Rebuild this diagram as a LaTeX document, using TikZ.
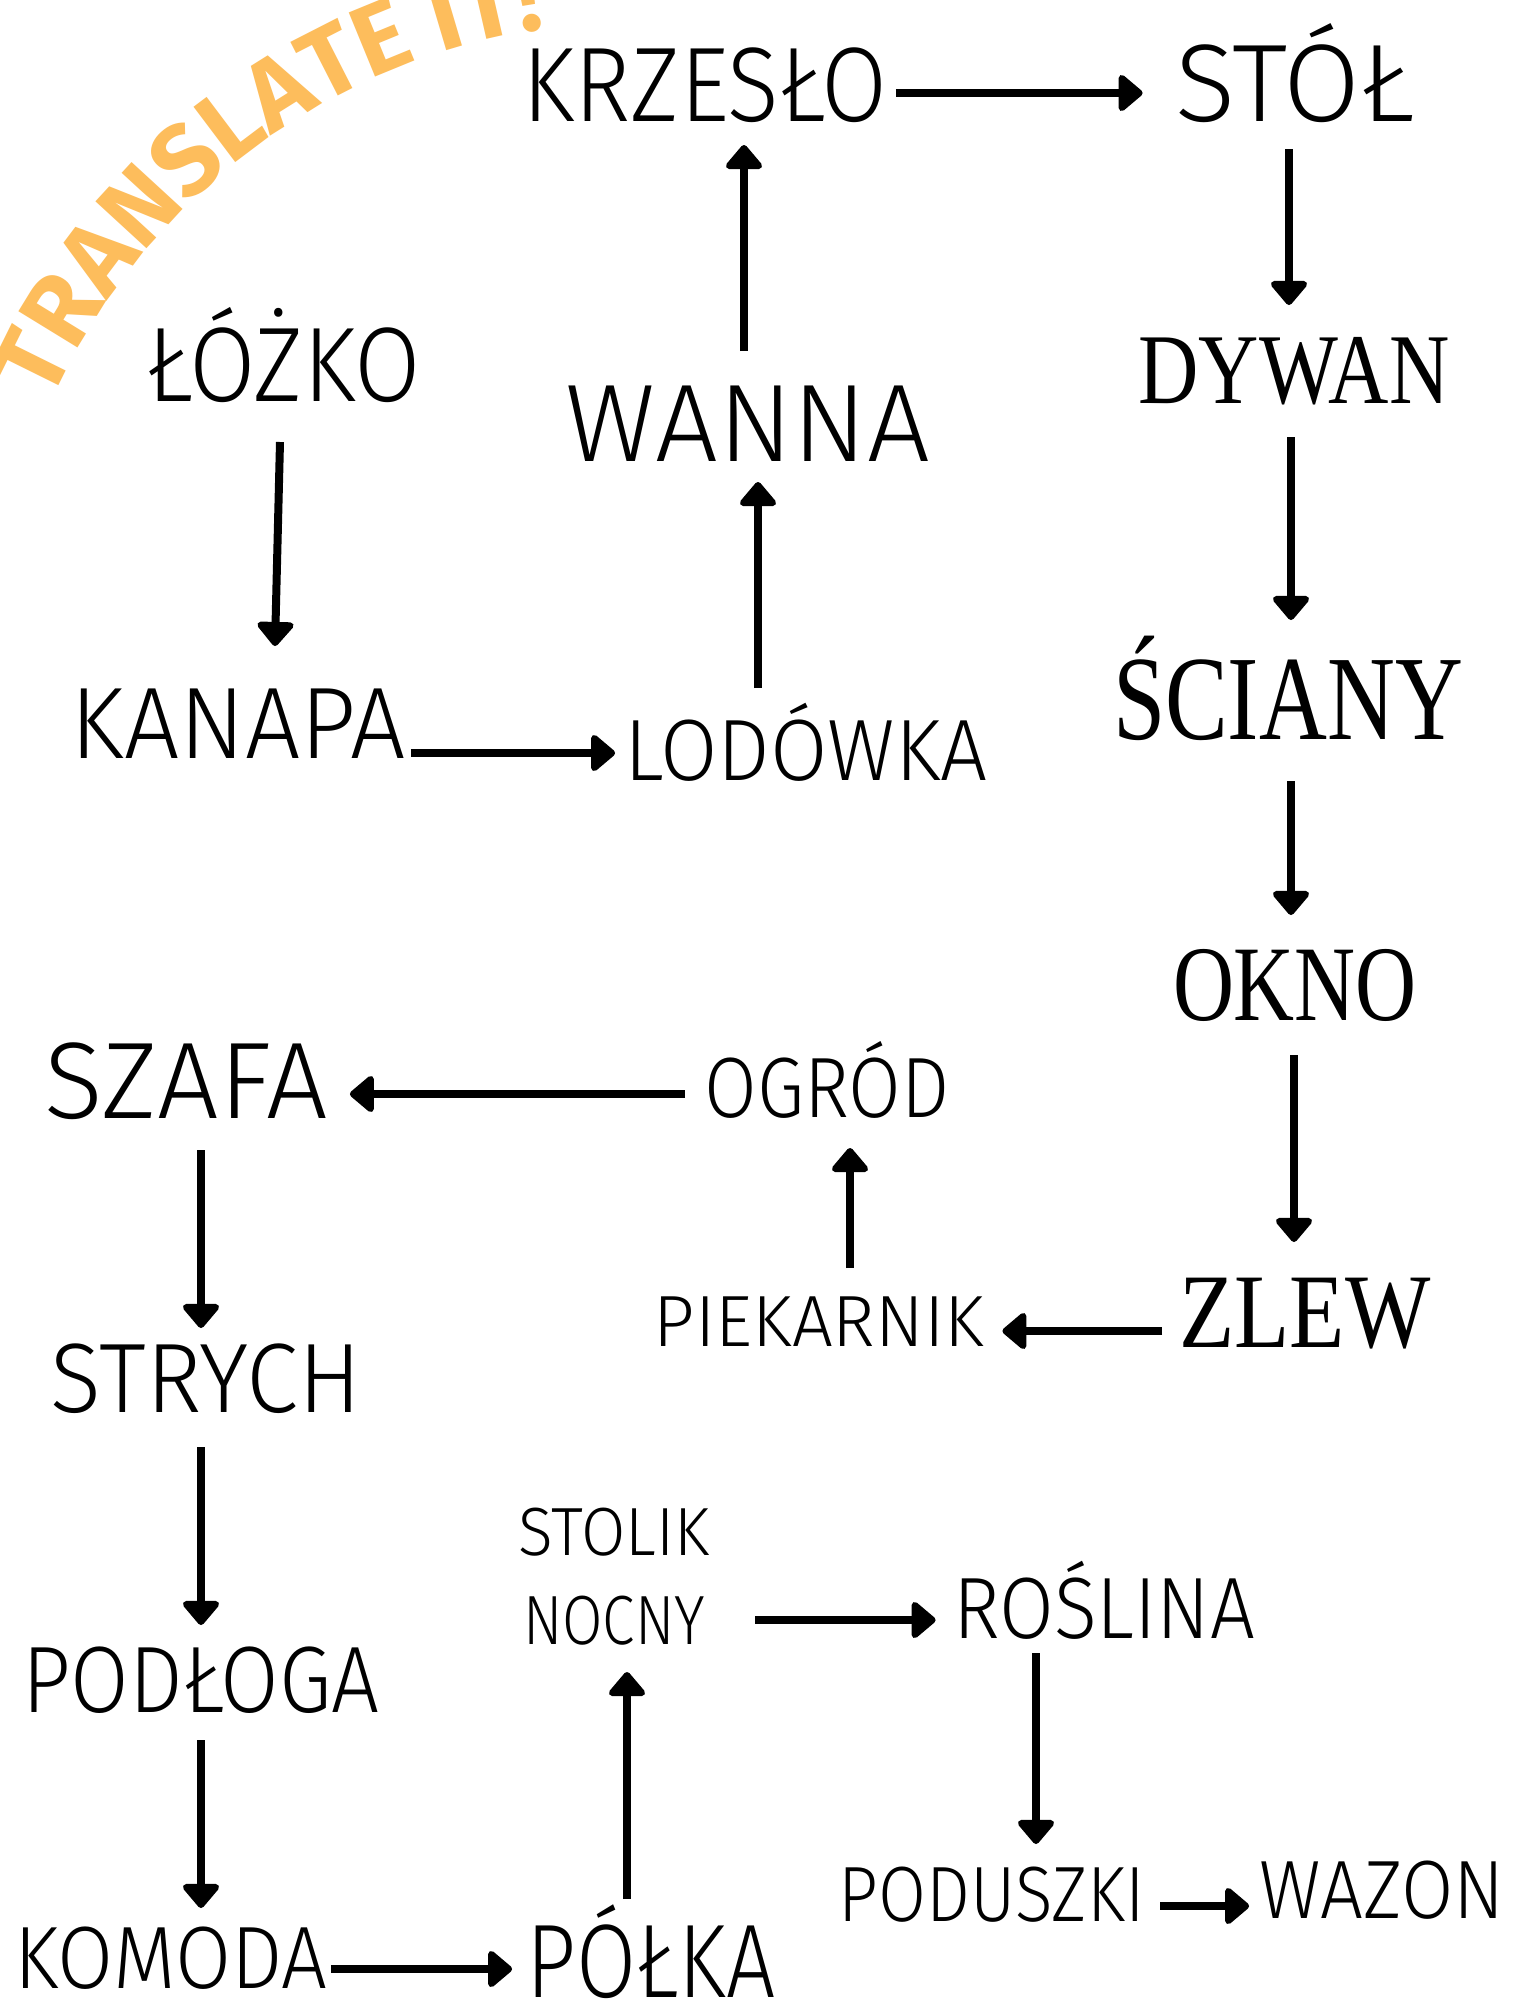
\documentclass[tikz,border=0pt]{standalone}
\usepackage{fontspec}
\setmainfont{Fira Sans}
\newfontfamily\handfont{Fira Sans Light}
\newfontfamily\widefont{Liberation Serif}
\usetikzlibrary{arrows.meta,calc,decorations.text}
\definecolor{titleorange}{HTML}{FDBD5C}
\newcommand\lab[4][\handfont]{\pgfmathsetmacro\fs{#3*0.7257}%
  \resizebox{\dimexpr #2pt/2\relax}{\height}{#1\fontsize{\fs}{\fs}\selectfont #4}}
\tikzset{
  lbl/.style={inner sep=0pt, anchor=base},
  arr/.style={line width=4pt, -{Triangle[round,length=13pt,width=21pt]}}
}
\begin{document}
\begin{tikzpicture}[x=0.5pt,y=-0.5pt]
\fill[white] (0,0) rectangle (1513,1999);
\useasboundingbox (0,0) rectangle (1513,1999);
% title
\begin{scope}[x=1pt,y=1pt]
\path[decorate, decoration={text along path, text align=left,
  text={|\fontsize{50}{50}\selectfont\bfseries\color{titleorange}|TRANSLATE IT!}}]
  (318.5,-331.5) ++(156:320.5) arc[start angle=156, end angle=70, radius=320.5];
\end{scope}
% labels
\node[lbl] (krz) at (705,121) {\lab{365}{73}{KRZESŁO}};
\node[lbl] (stol) at (1295,121) {\lab{240}{76}{STÓŁ}};
\node[lbl] (dywan) at (1294,403) {\lab[\widefont]{311}{69}{DYWAN}};
\node[lbl] (sciany) at (1288,739) {\lab[\widefont]{350}{83}{ŚCIANY}};
\node[lbl] (okno) at (1295,1020) {\lab[\widefont]{244}{74}{OKNO}};
\node[lbl] (zlew) at (1305,1347) {\lab[\widefont]{251}{73}{ZLEW}};
\node[lbl] (piek) at (819,1346) {\lab{330}{50}{PIEKARNIK}};
\node[lbl] (ogrod) at (827,1117) {\lab{245}{59}{OGRÓD}};
\node[lbl] (szafa) at (186,1118) {\lab{283}{75}{SZAFA}};
\node[lbl] (strych) at (206,1412) {\lab{310}{68}{STRYCH}};
\node[lbl] (podloga) at (201,1712) {\lab{357}{65}{PODŁOGA}};
\node[lbl] (komoda) at (171,1988) {\lab{313}{61}{KOMODA}};
\node[lbl] (polka) at (651,1997) {\lab{249}{72}{PÓŁKA}};
\node[lbl] (stolik) at (614,1555) {\lab{191}{47}{STOLIK}};
\node[lbl] (nocny) at (614,1644) {\lab{182}{48}{NOCNY}};
\node[lbl] (roslina) at (1104,1638) {\lab{302}{60}{ROŚLINA}};
\node[lbl] (poduszki) at (992,1921) {\lab{306}{54}{PODUSZKI}};
\node[lbl] (wazon) at (1382,1918) {\lab{245}{57}{WAZON}};
\node[lbl] (lozko) at (284,401) {\lab{274}{73}{ŁÓŻKO}};
\node[lbl] (kanapa) at (238,758) {\lab{335}{70}{KANAPA}};
\node[lbl] (lodowka) at (806,780) {\lab{363}{60}{LODÓWKA}};
\node[lbl] (wanna) at (748,461) {\lab{365}{76}{WANNA}};
% connectors
\draw[arr] ($(krz.base east)+(8,-28)$) -- ($(stol.base west)+(-32,-28)$);
\draw[arr] ($(stol.base)+(-6,28)$) -- ($(dywan.base)+(-5,-98)$);
\draw[arr] ($(dywan.base)+(-3,34)$) -- ($(sciany.base)+(3,-119)$);
\draw[arr] ($(sciany.base)+(3,42)$) -- ($(okno.base)+(-4,-105)$);
\draw[arr] ($(okno.base)+(-1,35)$) -- ($(zlew.base)+(-11,-105)$);
\draw[arr] ($(zlew.base west)+(-17,-16)$) -- ($(piek.base east)+(18,-15)$);
\draw[arr] ($(piek.base)+(31,-78)$) -- ($(ogrod.base)+(23,31)$);
\draw[arr] ($(ogrod.base west)+(-19,-23)$) -- ($(szafa.base east)+(22,-24)$);
\draw[arr] ($(szafa.base)+(15,32)$) -- ($(strych.base)+(-5,-84)$);
\draw[arr] ($(strych.base)+(-5,35)$) -- ($(podloga.base)+(0,-87)$);
\draw[arr] ($(podloga.base)+(0,28)$) -- ($(komoda.base)+(30,-80)$);
\draw[arr] ($(komoda.base east)+(3,-19)$) -- ($(polka.base west)+(-14,-28)$);
\draw[arr] ($(polka.base)+(-24,-98)$) -- ($(nocny.base)+(13,28)$);
\draw[arr] ($(nocny.base east)+(50,-24)$) -- ($(roslina.base west)+(-17,-18)$);
\draw[arr] ($(roslina.base)+(-68,15)$) -- ($(poduszki.base)+(44,-77)$);
\draw[arr] ($(poduszki.base east)+(15,-15)$) -- ($(wazon.base west)+(-10,-12)$);
\draw[arr] ($(lozko.base)+(-4,41)$) -- ($(kanapa.base)+(37,-112)$);
\draw[arr] ($(kanapa.base east)+(5,-5)$) -- ($(lodowka.base west)+(-9,-27)$);
\draw[arr] ($(lodowka.base)+(-48,-92)$) -- ($(wanna.base)+(10,21)$);
\draw[arr] ($(wanna.base)+(-4,-110)$) -- ($(krz.base)+(39,24)$);
\end{tikzpicture}
\end{document}
